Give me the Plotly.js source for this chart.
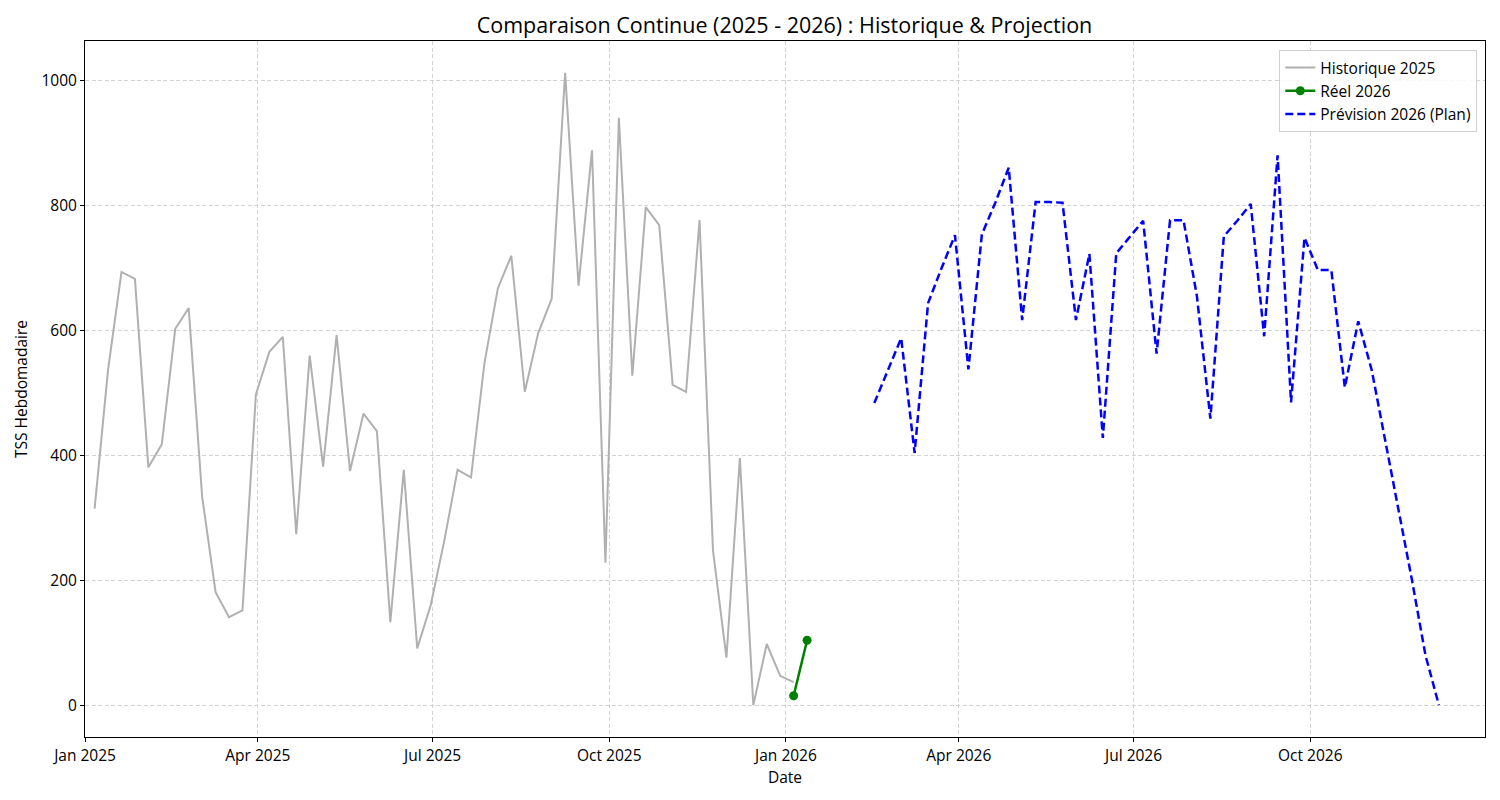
<!DOCTYPE html>
<html>
<head>
<meta charset="utf-8">
<script src="https://cdn.plot.ly/plotly-3.0.1.min.js"></script>
<style>html,body{margin:0;padding:0;background:#fff;}#chart{width:1500px;height:800px;}</style>
</head>
<body>
<div id="chart"></div>
<script>
// Weekly series (week starts, Mondays)
const histStart = '2025-01-06';
const histValues = [315, 537, 694, 683, 381, 418, 603, 636, 334, 181,
  141, 152, 498, 566, 590, 274, 560, 382, 593, 375,
  467, 439, 133, 377, 91, 160, 262, 377, 365, 548,
  668, 720, 502, 596, 651, 1013, 672, 889, 228, 941,
  528, 798, 769, 513, 502, 777, 248, 76, 396, 0,
  98, 47, 37];

const reelStart = '2026-01-05';
const reelValues = [15, 104];

const planStart = '2026-02-16';
const planValues = [484, 536, 588, 404, 644, 700, 753, 538, 754, 805,
  861, 617, 806, 806, 805, 617, 723, 428, 724, 750,
  776, 563, 777, 777, 655, 459, 751, 776, 803, 591,
  881, 485, 749, 697, 697, 509, 615, 537, 425, 312,
  200, 80, 0];

const tickDates = ['2025-01-01','2025-04-01','2025-07-01','2025-10-01','2026-01-01','2026-04-01','2026-07-01','2026-10-01'];
const tickLabels = ['Jan 2025','Apr 2025','Jul 2025','Oct 2025','Jan 2026','Apr 2026','Jul 2026','Oct 2026'];

function weekly(start, n) {
  const out = [];
  const d0 = new Date(start + 'T00:00:00Z');
  for (let i = 0; i < n; i++) {
    const d = new Date(d0.getTime() + i * 7 * 86400000);
    out.push(d.toISOString().slice(0, 10));
  }
  return out;
}

const font = "Open Sans, Roboto, sans-serif";

const traces = [
  {x: weekly(histStart, histValues.length), y: histValues, type: 'scatter', mode: 'lines',
   name: 'Historique 2025', line: {color: '#b0b0b0', width: 2}},
  {x: weekly(reelStart, reelValues.length), y: reelValues, type: 'scatter', mode: 'lines+markers',
   name: 'Réel 2026', line: {color: '#008000', width: 2.5}, marker: {color: '#008000', size: 9}},
  {x: weekly(planStart, planValues.length), y: planValues, type: 'scatter', mode: 'lines',
   name: 'Prévision 2026 (Plan)', line: {color: '#0000ff', width: 2.5, dash: '8px,4px'}}
];

const layout = {
  width: 1500, height: 800,
  margin: {l: 85, r: 15, t: 41, b: 63},
  paper_bgcolor: '#fff', plot_bgcolor: '#fff',
  font: {family: font, size: 15.5, color: '#000'},
  title: {text: 'Comparaison Continue (2025 - 2026) : Historique & Projection',
          font: {family: font, size: 21.5, color: '#000'}, x: 0.523, xanchor: 'center', y: 0.968, yanchor: 'middle'},
  xaxis: {
    type: 'date', range: ['2025-01-01', '2026-12-31'],
    tickvals: tickDates, ticktext: tickLabels,
    showgrid: true, gridcolor: '#d3d3d3', griddash: '4px,2.5px', gridwidth: 1,
    showline: true, linecolor: '#000', linewidth: 1, mirror: true,
    ticks: 'outside', ticklen: 4, tickcolor: '#000',
    zeroline: false,
    title: {text: 'Date', font: {family: font, size: 15.5}, standoff: 6},
    tickfont: {family: font, size: 15.5}
  },
  yaxis: {
    range: [-51, 1064],
    tickvals: [0, 200, 400, 600, 800, 1000],
    showgrid: true, gridcolor: '#d3d3d3', griddash: '4px,2.5px', gridwidth: 1,
    showline: true, linecolor: '#000', linewidth: 1, mirror: true,
    ticks: 'outside', ticklen: 4, tickcolor: '#000',
    zeroline: false,
    title: {text: 'TSS Hebdomadaire', font: {family: font, size: 15.5}, standoff: 10},
    tickfont: {family: font, size: 15.5}
  },
  legend: {
    x: 0.9945, y: 0.987, xanchor: 'right', yanchor: 'top',
    bgcolor: 'rgba(255,255,255,0.85)', bordercolor: '#d0d0d0', borderwidth: 1,
    font: {family: font, size: 15.5}, tracegroupgap: 0
  },
  showlegend: true
};

Plotly.newPlot('chart', traces, layout, {displayModeBar: false, staticPlot: true});
</script>
</body>
</html>
